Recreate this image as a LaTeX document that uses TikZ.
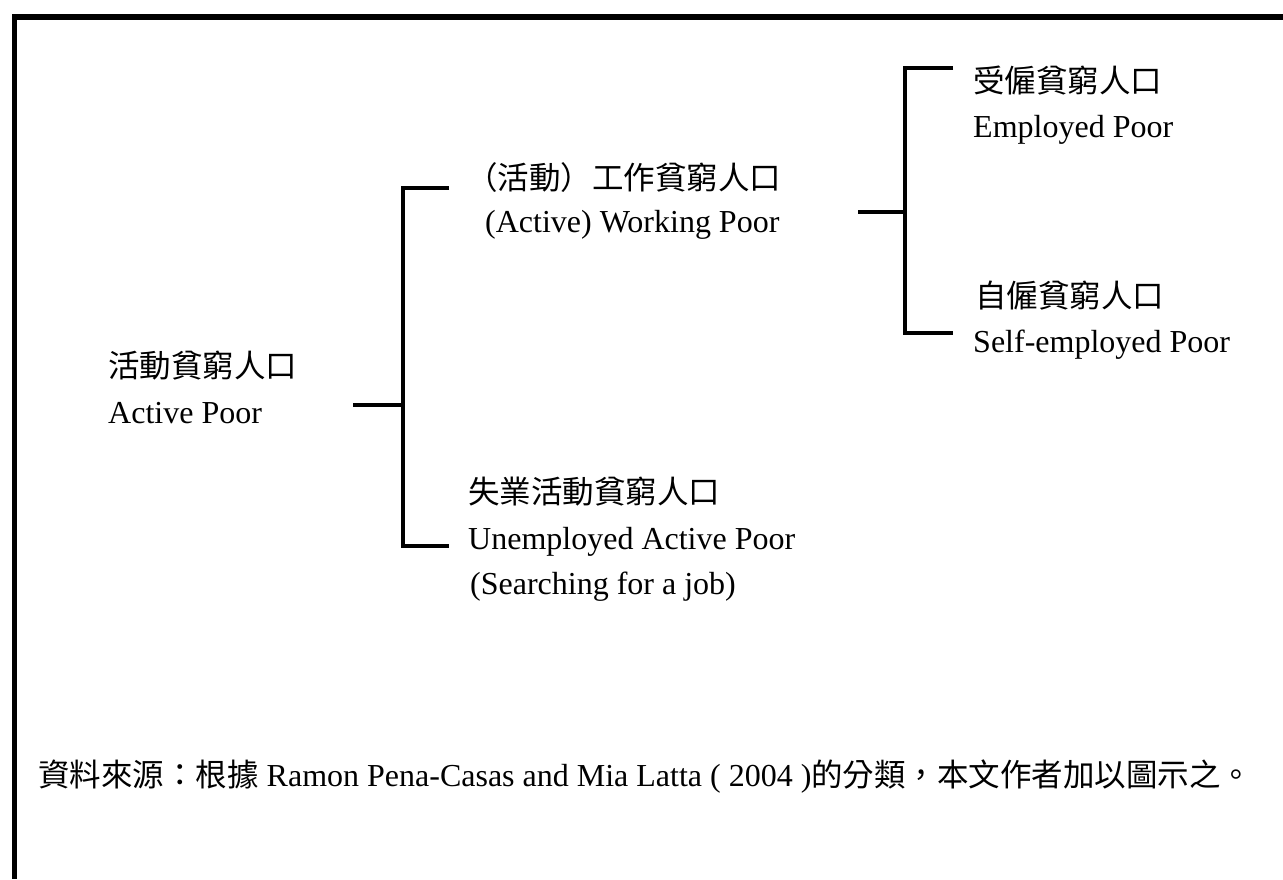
\documentclass[tikz,border=0pt]{standalone}
\usepackage{fontspec}
\setmainfont{Liberation Serif}
\newfontfamily\cjk{Noto Sans CJK TC}
\begin{document}
\begin{tikzpicture}[x=1pt,y=-1pt,
  lat/.style={anchor=base west,inner sep=0pt,font=\fontsize{32}{38}\selectfont},
  han/.style={anchor=base west,inner sep=0pt,font=\fontsize{31.5}{36}\selectfont\cjk},
  mixed/.style={anchor=base west,inner sep=0pt,font=\fontsize{32}{38}\selectfont},
  br/.style={line width=4pt,line join=miter},
  framerule/.style={line width=5.5pt}]
\useasboundingbox (0,0) rectangle (1283,879);
\fill[white] (0,0) rectangle (1283,879);
% frame
\coordinate (ftl) at (12,17);
\coordinate (ftr) at (1283,17);
\coordinate (fl1) at (14.6,14.3);
\coordinate (fl2) at (14.6,879);
\draw[framerule] (ftl) -- (ftr);
\draw[line width=5pt] (fl1) -- (fl2);
% texts
\node[han] (apzh) at (108,377) {活動貧窮人口};
\node[lat] (apen) at (108,423) {Active Poor};
\node[han] (wpzh) at (466,189) {（活動）工作貧窮人口};
\node[lat] (wpen) at (485,232) {(Active) Working Poor};
\node[han] (upzh) at (468,503) {失業活動貧窮人口};
\node[lat] (upen) at (468,549) {Unemployed Active Poor};
\node[lat] (upsr) at (470,594) {(Searching for a job)};
\node[han] (epzh) at (973,92) {受僱貧窮人口};
\node[lat] (epen) at (973,137) {Employed Poor};
\node[han] (spzh) at (975,307) {自僱貧窮人口};
\node[lat] (spen) at (973,352) {Self-employed Poor};
\node[mixed] (src) at (38,786) {{\cjk\fontsize{31.5}{36}\selectfont 資料來源：根據} Ramon Pena-Casas and Mia Latta ( 2004 ){\cjk\fontsize{31.5}{36}\selectfont 的分類，本文作者加以圖示之。}};
% bracket 1
\coordinate (a0) at (353,405);
\coordinate (a1) at (403,405);
\coordinate (a2) at (403,188);
\coordinate (a3) at (449,188);
\coordinate (a4) at (403,546);
\coordinate (a5) at (449,546);
\draw[br] (a0) -- (a1);
\draw[br] (a3) -- (a2) -- (a4) -- (a5);
% bracket 2
\coordinate (b0) at (858,212);
\coordinate (b1) at (905,212);
\coordinate (b2) at (905,68);
\coordinate (b3) at (953,68);
\coordinate (b4) at (905,333);
\coordinate (b5) at (953,333);
\draw[br] (b0) -- (b1);
\draw[br] (b3) -- (b2) -- (b4) -- (b5);
\end{tikzpicture}
\end{document}
